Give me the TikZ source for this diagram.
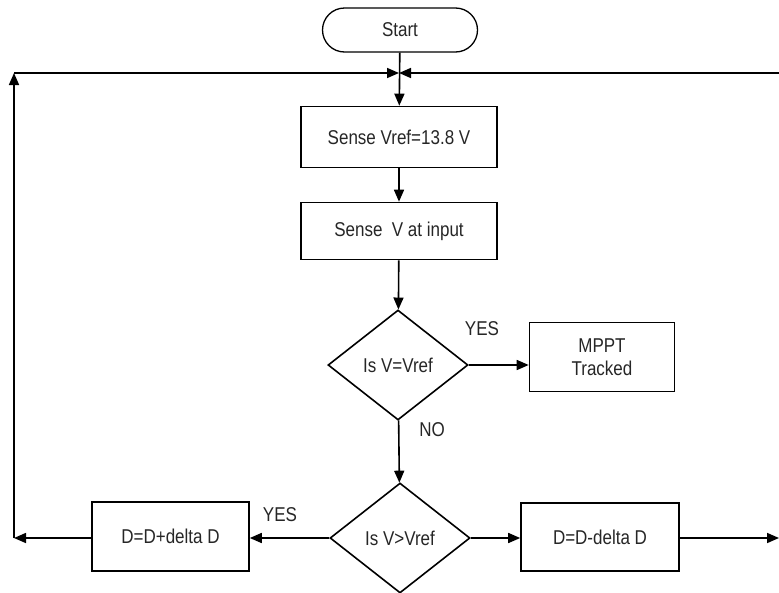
\documentclass[tikz,border=0pt]{standalone}
\usepackage{fontspec}
\setmainfont[FakeStretch=0.85]{Liberation Sans}
\usetikzlibrary{arrows.meta,shapes.geometric,shapes.misc}
\tikzset{
  every node/.style={font=\fontsize{20}{23}\selectfont, text=black!85},
  boxnode/.style={draw, rectangle, line width=1.6pt, inner sep=0pt, align=center},
  decnode/.style={draw, diamond, line width=1.6pt, inner sep=0pt, aspect=1.27, minimum width=140pt, minimum height=110pt},
  termnode/.style={draw, rounded rectangle, line width=1.3pt, inner sep=0pt, minimum width=155pt, minimum height=44pt},
  conn/.style={line width=1.6pt, -{Triangle[length=12pt,width=10pt]}},
  lbl/.style={inner sep=0pt}
}
\begin{document}
\begin{tikzpicture}[x=1pt,y=-1pt]
\useasboundingbox (0,0) rectangle (779,592);
\node[termnode] (start) at (400,30) {Start};
\node[boxnode, minimum width=196pt, minimum height=61pt] (b1) at (399,137) {Sense Vref=13.8 V};
\node[boxnode, minimum width=196pt, minimum height=57pt] (b2) at (399,231) {Sense\ \ V at input};
\node[decnode] (d1) at (398,365) {Is V=Vref};
\node[boxnode, minimum width=145pt, minimum height=69pt] (mppt) at (602,357) {MPPT\\Tracked};
\node[decnode] (d2) at (400,538) {Is V>Vref};
\node[boxnode, minimum width=157pt, minimum height=69pt] (dp) at (170.5,536.5) {D=D+delta D};
\node[boxnode, minimum width=158pt, minimum height=68pt] (dm) at (600,537) {D=D-delta D};
\coordinate (J) at (399,73);
\coordinate (LT) at (14,73);
\coordinate (LB) at (14,538);
\coordinate (RT) at (779,73);
\coordinate (RB) at (779,538);
% main flow
\draw[conn] (start) -- (b1);
\draw[conn] (b1) -- (b2);
\draw[conn] (b2) -- (d1);
\draw[conn] (d1.east) -- (d1.east -| mppt.west);
\draw[conn] (d1) -- (d2);
\draw[conn] (d2.west) -- (dp.east |- d2.west);
\draw[conn] (d2.east) -- (dm.west |- d2.east);
% feedback loops
\draw[conn] (dp.west |- LB) -- (LB);
\draw[conn] (LB) -- (LT);
\draw[conn] (LT) -- (J);
\draw[conn] (dm.east |- RB) -- (RB);
\draw[conn] (RT) -- (J);
% labels
\node[lbl] at (482,329) {YES};
\node[lbl] at (432,430) {NO};
\node[lbl] at (280,515) {YES};
\end{tikzpicture}
\end{document}
